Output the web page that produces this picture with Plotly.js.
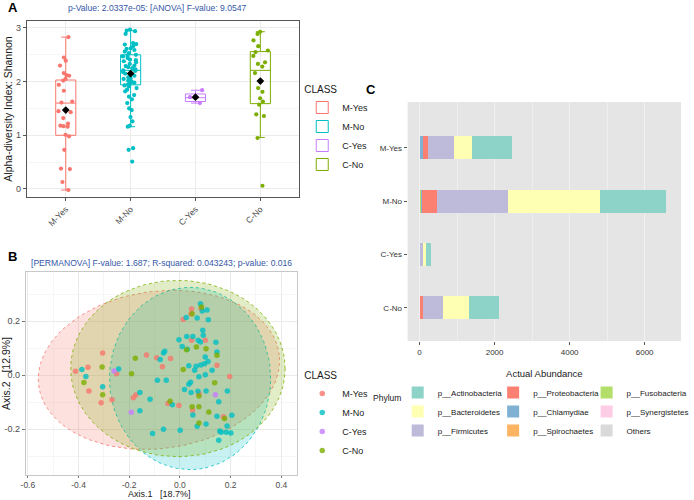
<!DOCTYPE html>
<html><head><meta charset="utf-8">
<script src="https://cdn.plot.ly/plotly-3.0.1.min.js"></script>
<style>html,body{margin:0;padding:0;background:#fff}#chart{width:694px;height:500px}</style>
</head><body><div id="chart"></div>
<script>
// ---------- shared ----------
const classes = ['M-Yes', 'M-No', 'C-Yes', 'C-No'];
const classColors = ['#F8766D', '#00BFC4', '#C77CFF', '#7CAE00'];

// ---------- Panel A: Shannon index ----------
const shannonMYes = [2.83, 2.45, 2.39, 2.30, 2.16, 2.12, 2.11, 2.05, 2.02, 1.94, 1.83, 1.63, 1.61, 1.45, 1.43, 1.32, 1.22, 1.18, 1.17, 1.16, 1.01, 0.98, 0.73, 0.37, 0.38, 0.13, -0.02];
const shannonMNo = [2.97, 2.95, 2.94, 2.89, 2.72, 2.70, 2.69, 2.66, 2.62, 2.61, 2.59, 2.56, 2.53, 2.50, 2.48, 2.47, 2.44, 2.41, 2.40, 2.38, 2.36, 2.33, 2.30, 2.29, 2.27, 2.25, 2.23, 2.21, 2.20, 2.18, 2.15, 2.12, 2.11, 2.08, 2.06, 2.05, 2.02, 2.00, 1.98, 1.97, 1.95, 1.93, 1.91, 1.88, 1.85, 1.82, 1.75, 1.72, 1.67, 1.60, 1.50, 1.47, 1.34, 1.26, 1.18, 1.16, 0.76, 0.73, 0.51];
const shannonCYes = [1.84, 1.71, 1.60];
const shannonCNo = [2.93, 2.89, 2.77, 2.66, 2.58, 2.55, 2.48, 2.36, 2.33, 2.28, 2.16, 1.88, 1.81, 1.69, 1.63, 1.57, 1.39, 1.36, 0.95, 0.06];
const shannonByClass = [shannonMYes, shannonMNo, shannonCYes, shannonCNo];
// box statistics as drawn
const boxQ1 = [1.00, 1.94, 1.63, 1.59];
const boxMedian = [1.60, 2.21, 1.70, 2.21];
const boxQ3 = [2.03, 2.50, 1.77, 2.56];
const boxLow = [-0.02, 1.16, 1.60, 0.96];
const boxHigh = [2.83, 2.95, 1.84, 2.93];
const boxMean = [1.47, 2.15, 1.71, 2.01];
const aYTicks = [0, 1, 2, 3];

// ---------- Panel B: PCoA ----------
const pcoaMYesX = [-0.305, -0.412, -0.363, -0.359, -0.311, -0.268, -0.250, -0.184, -0.174, -0.132, -0.092, -0.069, -0.037, -0.047, -0.004, 0.013, 0.044, 0.046, 0.046, 0.084, 0.100, 0.146, 0.196, 0.172, 0.050, 0.075];
const pcoaMYesY = [0.083, 0.015, 0.030, -0.058, -0.102, -0.091, 0.006, -0.083, -0.073, 0.075, 0.065, 0.032, 0.062, -0.105, -0.112, 0.207, 0.228, 0.246, 0.130, 0.247, 0.130, 0.037, -0.005, -0.154, -0.130, -0.068];
const pcoaMNoX = [-0.387, -0.371, -0.305, -0.242, -0.158, -0.158, -0.118, -0.108, -0.089, -0.078, -0.065, -0.060, -0.065, -0.054, -0.030, -0.004, 0.001, 0.009, 0.018, 0.025, 0.027, 0.029, 0.035, 0.035, 0.042, 0.044, 0.051, 0.051, 0.058, 0.064, 0.068, 0.072, 0.071, 0.075, 0.081, 0.081, 0.082, 0.088, 0.107, 0.090, 0.092, 0.097, 0.100, 0.100, 0.103, 0.103, 0.111, 0.112, 0.127, 0.142, 0.146, 0.146, 0.153, 0.157, 0.163, 0.183, 0.201, 0.153, 0.187, 0.186, 0.205, 0.068];
const pcoaMNoY = [0.021, -0.005, -0.043, 0.023, -0.064, -0.132, -0.089, -0.216, -0.019, 0.058, 0.083, 0.089, -0.200, -0.019, -0.109, 0.132, -0.204, 0.107, -0.053, 0.214, 0.144, 0.096, 0.035, -0.033, -0.026, -0.064, 0.144, -0.147, 0.019, 0.033, 0.212, 0.130, -0.059, -0.006, 0.265, 0.123, 0.038, 0.238, 0.242, 0.167, 0.148, 0.043, 0.068, 0.002, -0.058, -0.181, 0.051, 0.206, 0.019, 0.122, 0.086, -0.152, -0.098, -0.207, -0.211, -0.211, -0.214, -0.241, -0.058, -0.188, -0.148, -0.189];
const pcoaCYesX = [-0.260, -0.192, 0.140];
const pcoaCYesY = [0.016, -0.137, -0.072];
const pcoaCNoX = [-0.379, -0.307, -0.305, -0.191, -0.176, -0.039, 0.013, 0.026, 0.048, 0.065, 0.075, 0.075, 0.085, 0.103, 0.114, 0.137, 0.146, 0.048, 0.176, 0.075];
const pcoaCNoY = [-0.027, 0.031, -0.072, 0.006, 0.063, -0.096, 0.021, 0.095, -0.117, 0.105, -0.077, -0.177, 0.253, 0.098, -0.136, -0.028, 0.074, 0.228, -0.160, -0.117];
const pcoaX = [pcoaMYesX, pcoaMNoX, pcoaCYesX, pcoaCNoX];
const pcoaY = [pcoaMYesY, pcoaMNoY, pcoaCYesY, pcoaCNoY];
// confidence ellipses (class, centre, semi-axes, tilt in degrees)
const ellipseClass = ['M-Yes', 'M-No', 'C-No'];
const ellipseCx = [-0.083, 0.040, -0.008];
const ellipseCy = [0.020, -0.012, 0.025];
const ellipseRx = [0.478, 0.318, 0.423];
const ellipseRy = [0.292, 0.338, 0.327];
const ellipseTilt = [6.5, 0, 0];
const bXTicks = [-0.6, -0.4, -0.2, 0.0, 0.2, 0.4];
const bXTickText = ['-0.6', '-0.4', '-0.2', '0.0', '0.2', '0.4'];
const bYTicks = [-0.2, 0.0, 0.2];
const bYTickText = ['-0.2', '0.0', '0.2'];

// ---------- Panel C: phylum abundance ----------
const phyla = ['p__Actinobacteria', 'p__Bacteroidetes', 'p__Firmicutes', 'p__Proteobacteria', 'p__Chlamydiae', 'p__Spirochaetes', 'p__Fusobacteria', 'p__Synergistetes', 'Others'];
const phylaColors = ['#8DD3C7', '#FFFFB3', '#BEBADA', '#FB8072', '#80B1D3', '#FDB462', '#B3DE69', '#FCCDE5', '#D9D9D9'];
// values per class in order M-Yes, M-No, C-Yes, C-No
const abActinobacteria = [1068, 1775, 125, 787];
const abBacteroidetes = [469, 2445, 88, 697];
const abFirmicutes = [705, 1882, 80, 530];
const abProteobacteria = [143, 424, 3, 90];
const abChlamydiae = [70, 8, 0, 3];
const abSpirochaetes = [2, 8, 0, 2];
const abFusobacteria = [3, 25, 0, 2];
const abSynergistetes = [2, 4, 0, 1];
const abOthers = [5, 8, 2, 4];
const abundance = [abActinobacteria, abBacteroidetes, abFirmicutes, abProteobacteria, abChlamydiae, abSpirochaetes, abFusobacteria, abSynergistetes, abOthers];
const cXTicks = [0, 2000, 4000, 6000];

// ---------- build ----------
const FONT = 'Liberation Sans, Arial, sans-serif';
const BLUE = '#3557a8';
function rgba(hex, a) {
  const n = parseInt(hex.slice(1), 16);
  return 'rgba(' + (n >> 16) + ',' + ((n >> 8) & 255) + ',' + (n & 255) + ',' + a + ')';
}
const traces = [];

// Panel A boxes
classes.forEach((c, i) => {
  traces.push({
    type: 'box', x: [c], q1: [boxQ1[i]], median: [boxMedian[i]], q3: [boxQ3[i]],
    lowerfence: [boxLow[i]], upperfence: [boxHigh[i]], name: c,
    line: { color: classColors[i], width: 1 }, fillcolor: 'rgba(255,255,255,0)',
    whiskerwidth: 0.45, width: 0.31, boxpoints: false,
    xaxis: 'x', yaxis: 'y', legend: 'legend', legendgroup: 'a' + c
  });
});
classes.forEach((c, i) => {
  traces.push({
    type: 'box', x0: c, y: shannonByClass[i], name: c, showlegend: false,
    boxpoints: 'all', jitter: 0.85, pointpos: 0, width: 0.31,
    line: { color: 'rgba(0,0,0,0)', width: 0 }, fillcolor: 'rgba(0,0,0,0)',
    marker: { color: classColors[i], size: 4.2 }, hoveron: 'points',
    xaxis: 'x', yaxis: 'y'
  });
});
traces.push({
  type: 'scatter', mode: 'markers', x: classes, y: boxMean, showlegend: false,
  marker: { symbol: 'diamond', size: 6, color: '#000' }, xaxis: 'x', yaxis: 'y'
});

// Panel B ellipses
ellipseClass.forEach((c, k) => {
  const ci = classes.indexOf(c);
  const a = ellipseTilt[k] * Math.PI / 180;
  const ex = [], ey = [];
  for (let s = 0; s <= 120; s++) {
    const t = 2 * Math.PI * s / 120;
    ex.push(ellipseCx[k] + ellipseRx[k] * Math.cos(t) * Math.cos(a) - ellipseRy[k] * Math.sin(t) * Math.sin(a));
    ey.push(ellipseCy[k] + ellipseRx[k] * Math.cos(t) * Math.sin(a) + ellipseRy[k] * Math.sin(t) * Math.cos(a));
  }
  traces.push({
    type: 'scatter', mode: 'lines', x: ex, y: ey, fill: 'toself',
    fillcolor: rgba(classColors[ci], 0.22),
    line: { color: classColors[ci], width: 0.8, dash: 'dot' },
    showlegend: false, hoverinfo: 'skip', xaxis: 'x2', yaxis: 'y2'
  });
});
classes.forEach((c, i) => {
  traces.push({
    type: 'scatter', mode: 'markers', x: pcoaX[i], y: pcoaY[i], name: c,
    marker: { color: classColors[i], size: 5.5, opacity: 0.8 },
    xaxis: 'x2', yaxis: 'y2', legend: 'legend2'
  });
});

// Panel C stacked bars (first trace sits at zero)
const stackOrder = [8, 7, 6, 5, 4, 3, 2, 1, 0];
const legendOf = ['legend3', 'legend3', 'legend3', 'legend4', 'legend4', 'legend4', 'legend5', 'legend5', 'legend5'];
stackOrder.forEach(p => {
  traces.push({
    type: 'bar', orientation: 'h', y: classes, x: abundance[p], name: phyla[p],
    marker: { color: phylaColors[p], line: { width: 0 } }, width: 0.43,
    xaxis: 'x3', yaxis: 'y3', legend: legendOf[p], legendrank: p + 1
  });
});

const tickFontA = { family: FONT, size: 9, color: '#4d4d4d' };
const legendBase = {
  bgcolor: 'rgba(0,0,0,0)', borderwidth: 0, xanchor: 'left', yanchor: 'top',
  font: { family: FONT, size: 9, color: '#1a1a1a' }, tracegroupgap: 0, traceorder: 'normal'
};
const legendCFont = { family: FONT, size: 8, color: '#1a1a1a' };
const nb = '\u00a0';
const layout = {
  width: 694, height: 500,
  margin: { l: 0, r: 0, t: 0, b: 0 },
  paper_bgcolor: '#fff', plot_bgcolor: 'rgba(0,0,0,0)',
  font: { family: FONT, color: '#1a1a1a' },
  boxmode: 'overlay', barmode: 'stack',
  showlegend: true,
  xaxis: {
    domain: [27 / 694, 301 / 694], anchor: 'y', type: 'category', categoryarray: classes,
    range: [-0.6, 3.6], tickangle: -45, tickfont: { family: FONT, size: 8.5, color: '#4d4d4d' },
    ticks: 'outside', ticklen: 3, tickcolor: '#555', showgrid: true, gridcolor: '#ebebeb',
    showline: true, mirror: true, linecolor: '#555', linewidth: 1, zeroline: false
  },
  yaxis: {
    domain: [1 - 197 / 500, 1 - 21 / 500], anchor: 'x', range: [-0.15, 3.13],
    tickvals: aYTicks, tickfont: tickFontA, ticks: 'outside', ticklen: 3, tickcolor: '#555',
    showgrid: true, gridcolor: '#ebebeb', zeroline: false,
    minor: { dtick: 0.5, tick0: 0.5, showgrid: true, gridcolor: '#f6f6f6', ticks: '' },
    showline: true, mirror: true, linecolor: '#555', linewidth: 1,
    title: { text: 'Alpha-diversity Index: Shannon', font: { family: FONT, size: 10.5, color: '#1a1a1a' }, standoff: 1 }
  },
  xaxis2: {
    domain: [26 / 694, 299 / 694], anchor: 'y2', range: [-0.608, 0.463],
    tickvals: bXTicks, ticktext: bXTickText, tickfont: { family: FONT, size: 8.5, color: '#4d4d4d' },
    ticks: 'outside', ticklen: 2, tickcolor: '#777',
    showgrid: true, gridcolor: '#ebebeb',
    minor: { dtick: 0.1, tick0: -0.5, showgrid: true, gridcolor: '#f6f6f6', ticks: '' },
    zeroline: false, showline: true, mirror: true, linecolor: '#c8c8c8', linewidth: 1
  },
  yaxis2: {
    domain: [1 - 475 / 500, 1 - 272 / 500], anchor: 'x2', range: [-0.370, 0.383],
    tickvals: bYTicks, ticktext: bYTickText, tickfont: tickFontA,
    ticks: 'outside', ticklen: 3, tickcolor: '#777', showgrid: true, gridcolor: '#ebebeb',
    minor: { dtick: 0.1, tick0: -0.3, showgrid: true, gridcolor: '#f6f6f6', ticks: '' },
    zeroline: false, showline: true, mirror: true, linecolor: '#c8c8c8', linewidth: 1,
    title: { text: 'Axis.2' + nb + nb + nb + '[12.9%]', font: { family: FONT, size: 10.5, color: '#1a1a1a' }, standoff: 1 }
  },
  xaxis3: {
    domain: [410 / 694, 685 / 694], anchor: 'y3', range: [-318, 6970],
    tickvals: cXTicks, tickfont: { family: FONT, size: 8, color: '#333' },
    ticks: 'outside', ticklen: 3, tickcolor: '#555', showgrid: true, gridcolor: '#f1f1f1',
    minor: { dtick: 1000, tick0: 1000, showgrid: true, gridcolor: '#eeeeee', ticks: '' },
    zeroline: false, showline: false,
    title: { text: 'Actual Abundance', font: { family: FONT, size: 9.5, color: '#1a1a1a' }, standoff: 14 }
  },
  yaxis3: {
    domain: [1 - 341 / 500, 1 - 102 / 500], anchor: 'x3', type: 'category', categoryarray: classes,
    range: [3.62, -0.86], tickfont: { family: FONT, size: 8, color: '#333' },
    ticks: 'outside', ticklen: 3, tickcolor: '#555', showgrid: false, zeroline: false, showline: false
  },
  legend: Object.assign({}, legendBase, { x: 304 / 694, y: 1 - 80 / 500, title: { text: 'CLASS', font: { family: FONT, size: 10, color: '#1a1a1a' } } }),
  legend2: Object.assign({}, legendBase, { x: 304 / 694, y: 1 - 366 / 500, title: { text: 'CLASS', font: { family: FONT, size: 10, color: '#1a1a1a' } } }),
  legend3: Object.assign({}, legendBase, { x: 400 / 694, y: 1 - 378 / 500, font: legendCFont }),
  legend4: Object.assign({}, legendBase, { x: 496 / 694, y: 1 - 378 / 500, font: legendCFont }),
  legend5: Object.assign({}, legendBase, { x: 590 / 694, y: 1 - 378 / 500, font: legendCFont }),
  shapes: [{
    type: 'rect', xref: 'x3 domain', yref: 'y3 domain', x0: 0, x1: 1, y0: 0, y1: 1,
    fillcolor: '#e5e5e5', line: { width: 0 }, layer: 'below'
  }],
  annotations: [
    { text: '<b>A</b>', xref: 'paper', yref: 'paper', x: 6 / 694, y: 1 - 7 / 500, xanchor: 'left', yanchor: 'middle', showarrow: false, font: { family: FONT, size: 13, color: '#000' } },
    { text: 'p-Value: 2.0337e-05: [ANOVA] F-value: 9.0547', xref: 'paper', yref: 'paper', x: 158 / 694, y: 1 - 8 / 500, xanchor: 'center', yanchor: 'middle', showarrow: false, font: { family: FONT, size: 8.6, color: BLUE } },
    { text: '<b>B</b>', xref: 'paper', yref: 'paper', x: 6 / 694, y: 1 - 256 / 500, xanchor: 'left', yanchor: 'middle', showarrow: false, font: { family: FONT, size: 13, color: '#000' } },
    { text: '[PERMANOVA] F-value: 1.687; R-squared: 0.043243; p-value: 0.016', xref: 'paper', yref: 'paper', x: 162 / 694, y: 1 - 263 / 500, xanchor: 'center', yanchor: 'middle', showarrow: false, font: { family: FONT, size: 8.6, color: BLUE } },
    { text: 'Axis.1' + nb + nb + nb + '[18.7%]', xref: 'paper', yref: 'paper', x: 160 / 694, y: 0, xanchor: 'center', yanchor: 'bottom', borderpad: 0, showarrow: false, font: { family: FONT, size: 9, color: '#1a1a1a' } },
    { text: '<b>C</b>', xref: 'paper', yref: 'paper', x: 366 / 694, y: 1 - 90 / 500, xanchor: 'left', yanchor: 'middle', showarrow: false, font: { family: FONT, size: 13, color: '#000' } },
    { text: 'Phylum', xref: 'paper', yref: 'paper', x: 389 / 694, y: 1 - 398 / 500, xanchor: 'center', yanchor: 'middle', showarrow: false, font: { family: FONT, size: 8.5, color: '#1a1a1a' } }
  ]
};

Plotly.newPlot('chart', traces, layout, { staticPlot: true, displayModeBar: false });
</script></body></html>
